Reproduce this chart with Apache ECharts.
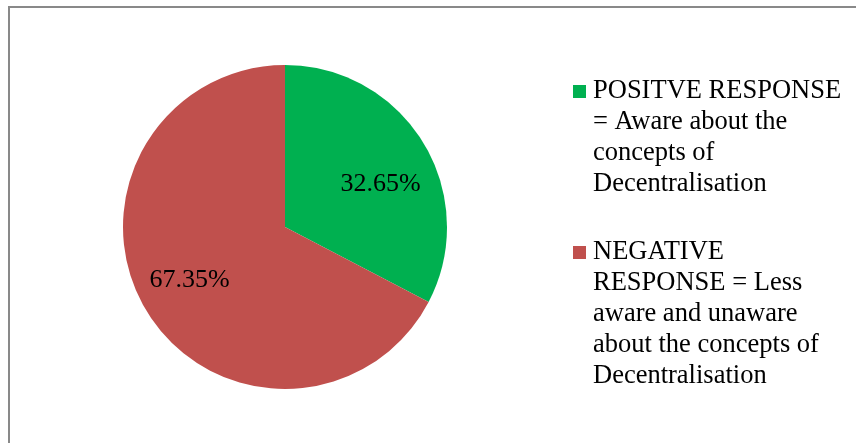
<!DOCTYPE html>
<html>
<head>
<meta charset="utf-8">
<script src="https://cdn.jsdelivr.net/npm/echarts@6/dist/echarts.min.js"></script>
<style>
  html, body { margin: 0; padding: 0; background: #ffffff; }
  #chart { width: 856px; height: 443px; }
</style>
</head>
<body>
<div id="chart"></div>
<script>
// Survey result: awareness of the concepts of decentralisation
const categories = [
  'POSITVE RESPONSE = Aware about the concepts of Decentralisation',
  'NEGATIVE RESPONSE = Less aware and unaware about the concepts of Decentralisation'
];
// legend text, broken into lines
const legendLines = [
  ['POSITVE RESPONSE', '= Aware about the', 'concepts of', 'Decentralisation'],
  ['NEGATIVE', 'RESPONSE = Less', 'aware and unaware', 'about the concepts of', 'Decentralisation']
];
const values = [32.65, 67.35];
const colors = ['#00B050', '#C0504D'];

const FONT = '"Liberation Serif", "Times New Roman", serif';
const CENTER = [285, 227];
const RADIUS = 162;

const chart = echarts.init(document.getElementById('chart'), null, { renderer: 'canvas' });

chart.setOption({
  animation: false,
  backgroundColor: '#ffffff',
  graphic: [{
    type: 'rect',
    shape: { x: 9, y: 7, width: 900, height: 500 },
    style: { fill: 'none', stroke: '#898989', lineWidth: 2 },
    silent: true
  }],
  legend: {
    orient: 'vertical',
    left: 563,
    top: 71,
    icon: 'none',
    itemWidth: 0,
    itemHeight: 13,
    itemGap: 37,
    data: categories,
    formatter: function (name) {
      const i = categories.indexOf(name);
      return legendLines[i].map(function (line, k) {
        return k === 0 ? '{sq' + i + '|}{t1|' + line + '}' : '{sp|}{t|' + line + '}';
      }).join('\n');
    },
    textStyle: {
      fontFamily: FONT,
      fontSize: 26.5,
      lineHeight: 31,
      color: '#000000',
      rich: {
        sq0: { width: 13, height: 13, backgroundColor: colors[0] },
        sq1: { width: 13, height: 13, backgroundColor: colors[1] },
        sp: { width: 20 },
        t1: { fontFamily: FONT, fontSize: 26.5, lineHeight: 31, color: '#000000', padding: [0, 0, 0, 7] },
        t: { fontFamily: FONT, fontSize: 26.5, lineHeight: 31, color: '#000000' }
      }
    }
  },
  series: [{
    type: 'pie',
    center: CENTER,
    radius: [0, RADIUS],
    startAngle: 90,
    clockwise: true,
    avoidLabelOverlap: false,
    itemStyle: { borderWidth: 0 },
    emphasis: { disabled: true },
    label: {
      show: true,
      position: 'inside',
      formatter: function (p) { return p.value.toFixed(2) + '%'; },
      fontFamily: FONT,
      fontSize: 26,
      color: '#000000'
    },
    // move each inside label to about two thirds of the radius,
    // turned slightly clockwise from the slice's middle
    labelLayout: function (p) {
      const r = p.labelRect;
      const lx = r.x + r.width / 2;
      const ly = r.y + r.height / 2;
      const phi = Math.atan2(lx - CENTER[0], -(ly - CENTER[1])) + 4.5 * Math.PI / 180;
      const dist = RADIUS * 0.66;
      const nx = CENTER[0] + dist * Math.sin(phi);
      const ny = CENTER[1] - dist * Math.cos(phi) + 5;
      return { dx: nx - lx, dy: ny - ly };
    },
    data: categories.map(function (name, i) {
      return { name: name, value: values[i], itemStyle: { color: colors[i] } };
    })
  }]
});
</script>
</body>
</html>
